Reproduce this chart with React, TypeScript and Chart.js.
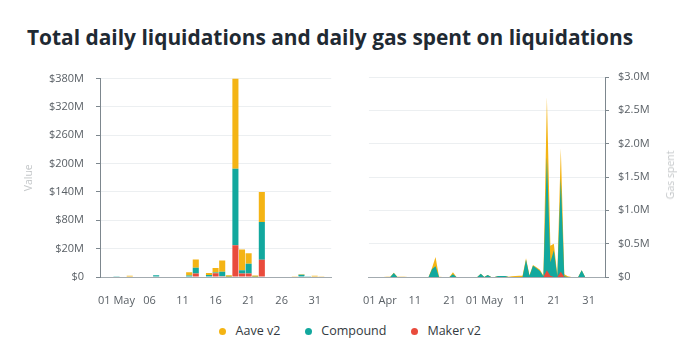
import React, { useEffect, useRef } from 'react';
import { Chart, registerables, LinearScale } from 'chart.js';

// ---------- data ----------
const SERIES_NAMES = ['Aave v2', 'Compound', 'Maker v2'];
const ORANGE = '#F4B414';
const TEAL = '#12A89E';
const RED = '#E94B3C';
const MONTHS = ['Jan', 'Feb', 'Mar', 'Apr', 'May', 'Jun', 'Jul', 'Aug', 'Sep', 'Oct', 'Nov', 'Dec'];

// Left panel: daily liquidations ($M)
const LIQ_DATES = [
  '2021-04-29', '2021-04-30',
  '2021-05-01', '2021-05-02', '2021-05-03', '2021-05-04', '2021-05-05',
  '2021-05-06', '2021-05-07', '2021-05-08', '2021-05-09', '2021-05-10',
  '2021-05-11', '2021-05-12', '2021-05-13', '2021-05-14', '2021-05-15',
  '2021-05-16', '2021-05-17', '2021-05-18', '2021-05-19', '2021-05-20',
  '2021-05-21', '2021-05-22', '2021-05-23', '2021-05-24', '2021-05-25',
  '2021-05-26', '2021-05-27', '2021-05-28', '2021-05-29', '2021-05-30',
  '2021-05-31', '2021-06-01', '2021-06-02',
];
const LIQ_MAKER = [
  0, 0, 0, 0, 0,
  0, 0, 0, 0, 0,
  0, 0, 0, 0.3, 2.4,
  0, 0.4, 2.6, 0.5, 0,
  27, 2.4, 2.4, 0, 12.2,
  0, 0, 0, 0, 0,
  0, 0, 0, 0, 0,
];
const LIQ_COMPOUND = [
  0, 0, 0.6, 0, 0,
  0, 0, 0, 1.3, 0,
  0, 0, 0, 0.7, 4.2,
  0, 1.0, 0.6, 3.2, 0.2,
  162, 2.3, 7.0, 0.2, 64,
  0.4, 0, 0, 0, 0,
  1.6, 0.2, 0, 0, 0,
];
const LIQ_AAVE = [
  0, 0, 0, 0, 0.9,
  0, 0, 0, 0, 0,
  0, 0.4, 0, 2.3, 5.8,
  0, 1.4, 3.1, 8.0, 1.0,
  191, 14.7, 7.4, 0.8, 63.8,
  0, 0, 0, 0, 0.6,
  0.4, 0, 0.9, 0.2, 0,
];
const LIQ_Y_TICKS = [0, 20, 80, 140, 200, 260, 320, 380];
const LIQ_TICK_DATES = ['2021-05-01', '2021-05-06', '2021-05-11', '2021-05-16', '2021-05-21', '2021-05-26', '2021-05-31'];

// Right panel: daily gas spent ($M), one value per day starting at GAS_FIRST_DATE
const GAS_FIRST_DATE = '2021-03-29';
const GAS_MAKER = [
  0, 0, 0,
  0, 0, 0, 0, 0, 0, 0, 0, 0, 0,
  0, 0, 0, 0, 0, 0, 0, 0, 0, 0,
  0, 0, 0, 0, 0, 0, 0, 0, 0, 0,
  0, 0, 0, 0, 0, 0, 0, 0, 0, 0,
  0, 0, 0, 0, 0, 0, 0, 0, 0.1, 0.02,
  0, 0, 0.08, 0, 0, 0, 0, 0, 0, 0,
  0, 0, 0, 0, 0,
];
const GAS_COMPOUND = [
  0, 0, 0,
  0, 0, 0, 0, 0.06, 0, 0, 0, 0, 0,
  0, 0, 0, 0, 0, 0.12, 0.16, 0, 0, 0,
  0, 0.04, 0, 0, 0, 0, 0, 0, 0, 0.05,
  0, 0.03, 0, 0, 0.015, 0.015, 0.015, 0, 0, 0,
  0, 0, 0.26, 0.02, 0.17, 0.13, 0.09, 0.01, 1.7, 0.2,
  0.4, 0.01, 1.4, 0.01, 0, 0, 0, 0, 0.1, 0,
  0, 0, 0, 0, 0,
];
const GAS_AAVE = [
  0, 0, 0,
  0, 0, 0.004, 0.004, 0.004, 0.004, 0.004, 0.004, 0, 0,
  0, 0, 0, 0, 0, 0.02, 0.14, 0.005, 0, 0,
  0, 0.03, 0, 0, 0, 0, 0, 0, 0, 0,
  0, 0, 0, 0, 0, 0, 0, 0.005, 0.01, 0.015,
  0.02, 0.02, 0.02, 0.005, 0.01, 0.015, 0.02, 0.01, 0.9, 0.25,
  0.1, 0.02, 0.45, 0.03, 0.01, 0, 0, 0, 0, 0,
  0, 0, 0, 0, 0,
];
const GAS_Y_TICKS = [0, 0.5, 1.0, 1.5, 2.0, 2.5, 3.0];
const GAS_TICK_DATES = ['2021-04-01', '2021-04-11', '2021-04-21', '2021-05-01', '2021-05-11', '2021-05-21', '2021-05-31'];
const GAS_REF_DATE = '2021-04-01';

// ---------- helpers ----------
const DAY_MS = 86400000;
const dayOffset = (d: string) => Math.round((Date.parse(d) - Date.parse(GAS_REF_DATE)) / DAY_MS);
const fmtDate = (d: string) => {
  const [, m, day] = d.split('-');
  return day === '01' ? `${day} ${MONTHS[+m - 1]}` : day;
};
const gasPoints = (vals: number[]) => {
  const start = dayOffset(GAS_FIRST_DATE);
  return vals.map((y, i) => ({ x: start + i, y }));
};

// Scale whose tick intervals are all drawn with equal length (as in the reference axis)
class TickSpacedScale extends LinearScale {
  static id = 'tickSpaced';
  static defaults = LinearScale.defaults;
  getPixelForValue(value: number) {
    const bp = LIQ_Y_TICKS;
    const n = bp.length - 1;
    let i = 0;
    while (i < n - 1 && value > bp[i + 1]) i++;
    const t = i + (value - bp[i]) / (bp[i + 1] - bp[i]);
    return (this as any).getPixelForDecimal(t / n);
  }
  getValueForPixel(pixel: number) {
    const bp = LIQ_Y_TICKS;
    const n = bp.length - 1;
    const t = (this as any).getDecimalForPixel(pixel) * n;
    const i = Math.min(Math.max(Math.floor(t), 0), n - 1);
    return bp[i] + (t - i) * (bp[i + 1] - bp[i]);
  }
}

Chart.register(...registerables, TickSpacedScale as any);
Chart.defaults.font.family = "'Open Sans', sans-serif";

const TICK_FONT = { family: "'Open Sans', sans-serif", size: 11 };
const TICK_COLOR = '#5a6066';
const GRID_COLOR = '#eceff1';
const AXIS_COLOR = '#7d878e';
const BASE_COLOR = '#a3abb0';
const TITLE_COLOR = '#c4c7c9';

export default function App() {
  const leftRef = useRef<HTMLCanvasElement>(null);
  const rightRef = useRef<HTMLCanvasElement>(null);

  useEffect(() => {
    const left = new Chart(leftRef.current!, {
      type: 'bar',
      data: {
        labels: LIQ_DATES,
        datasets: [
          { label: SERIES_NAMES[2], data: LIQ_MAKER, backgroundColor: RED },
          { label: SERIES_NAMES[1], data: LIQ_COMPOUND, backgroundColor: TEAL },
          { label: SERIES_NAMES[0], data: LIQ_AAVE, backgroundColor: ORANGE },
        ],
      },
      options: {
        animation: false,
        responsive: false,
        layout: { padding: { top: 17, right: 8, left: 0, bottom: 0 } },
        plugins: { legend: { display: false }, tooltip: { enabled: false } },
        datasets: { bar: { categoryPercentage: 0.92, barPercentage: 1 } },
        scales: {
          x: {
            stacked: true,
            grid: { display: false, drawTicks: false },
            border: { display: true, color: BASE_COLOR },
            ticks: {
              autoSkip: false,
              maxRotation: 0,
              padding: 17,
              color: TICK_COLOR,
              font: TICK_FONT,
              callback: (_v: any, i: number) => (LIQ_TICK_DATES.includes(LIQ_DATES[i]) ? fmtDate(LIQ_DATES[i]) : ''),
            },
            afterFit: (s: any) => { s.height = 38; },
          },
          y: {
            type: 'tickSpaced' as any,
            stacked: true,
            min: 0,
            max: 380,
            afterBuildTicks: (s: any) => { s.ticks = LIQ_Y_TICKS.map((value) => ({ value })); },
            afterFit: (s: any) => { s.width = 100; },
            grid: { color: GRID_COLOR, tickColor: AXIS_COLOR, tickLength: 4, drawTicks: true },
            border: { display: true, color: AXIS_COLOR },
            ticks: {
              color: TICK_COLOR,
              font: TICK_FONT,
              padding: 12,
              callback: (v: any) => (v === 0 ? '$0' : `$${v}M`),
            },
            title: {
              display: true,
              text: 'Value',
              color: TITLE_COLOR,
              font: { family: "'Open Sans', sans-serif", size: 10.5 },
              padding: { top: 23, bottom: 0 },
            },
          },
        },
      } as any,
    });

    const right = new Chart(rightRef.current!, {
      type: 'line',
      data: {
        datasets: [
          { label: SERIES_NAMES[2], data: gasPoints(GAS_MAKER), backgroundColor: RED, borderColor: RED },
          { label: SERIES_NAMES[1], data: gasPoints(GAS_COMPOUND), backgroundColor: TEAL, borderColor: TEAL },
          { label: SERIES_NAMES[0], data: gasPoints(GAS_AAVE), backgroundColor: ORANGE, borderColor: ORANGE },
        ],
      },
      options: {
        animation: false,
        responsive: false,
        layout: { padding: { top: 17, right: 0, left: 23, bottom: 0 } },
        plugins: { legend: { display: false }, tooltip: { enabled: false } },
        elements: {
          point: { radius: 0 },
          line: { tension: 0, borderWidth: 0, fill: 'origin' },
        },
        scales: {
          x: {
            type: 'linear',
            min: -3.15,
            max: 64.7,
            afterBuildTicks: (s: any) => { s.ticks = GAS_TICK_DATES.map((d) => ({ value: dayOffset(d) })); },
            grid: { display: false, drawTicks: false },
            border: { display: true, color: BASE_COLOR },
            ticks: {
              maxRotation: 0,
              autoSkip: false,
              padding: 17,
              color: TICK_COLOR,
              font: TICK_FONT,
              callback: (v: any) => {
                const d = GAS_TICK_DATES.find((t) => dayOffset(t) === v);
                return d ? fmtDate(d) : '';
              },
            },
            afterFit: (s: any) => { s.height = 38; },
          },
          y: {
            position: 'right',
            stacked: true,
            min: 0,
            max: 3,
            afterBuildTicks: (s: any) => { s.ticks = GAS_Y_TICKS.map((value) => ({ value })); },
            afterFit: (s: any) => { s.width = 95; },
            grid: { color: GRID_COLOR, tickColor: AXIS_COLOR, tickLength: 4, drawTicks: true },
            border: { display: true, color: AXIS_COLOR },
            ticks: {
              color: TICK_COLOR,
              font: TICK_FONT,
              padding: 9,
              callback: (v: any) => (v === 0 ? '$0' : `$${Number(v).toFixed(1)}M`),
            },
          },
        },
      } as any,
    });

    return () => {
      left.destroy();
      right.destroy();
    };
  }, []);

  const legendColors = [ORANGE, TEAL, RED];

  return (
    <div
      style={{
        position: 'fixed',
        left: 0,
        top: 0,
        width: 700,
        height: 351,
        background: '#fff',
        fontFamily: "'Open Sans', sans-serif",
        overflow: 'hidden',
      }}
    >
      <div
        style={{
          position: 'absolute',
          left: 27,
          top: 22,
          fontSize: 20.9,
          fontWeight: 700,
          lineHeight: '30px',
          color: '#1f2a33',
          whiteSpace: 'nowrap',
        }}
      >
        Total daily liquidations and daily gas spent on liquidations
      </div>
      <canvas
        ref={leftRef}
        width={345}
        height={255}
        style={{ position: 'absolute', left: 0, top: 60, width: 345, height: 255, display: 'block' }}
      />
      <canvas
        ref={rightRef}
        width={355}
        height={255}
        style={{ position: 'absolute', left: 345, top: 60, width: 355, height: 255, display: 'block' }}
      />
      <div
        style={{
          position: 'absolute',
          left: 670,
          top: 175,
          transform: 'translate(-50%, -50%) rotate(-90deg)',
          fontSize: 10.5,
          color: TITLE_COLOR,
          whiteSpace: 'nowrap',
        }}
      >
        Gas spent
      </div>
      <div
        style={{
          position: 'absolute',
          left: 0,
          top: 323,
          width: 700,
          display: 'flex',
          justifyContent: 'center',
          alignItems: 'center',
          gap: 24.5,
          fontSize: 12.5,
          lineHeight: '16px',
          color: '#333a40',
        }}
      >
        {SERIES_NAMES.map((name, i) => (
          <div key={name} style={{ display: 'flex', alignItems: 'center' }}>
            <span
              style={{
                width: 7,
                height: 7,
                borderRadius: '50%',
                background: legendColors[i],
                marginRight: 9.5,
                display: 'inline-block',
              }}
            />
            <span>{name}</span>
          </div>
        ))}
      </div>
    </div>
  );
}
